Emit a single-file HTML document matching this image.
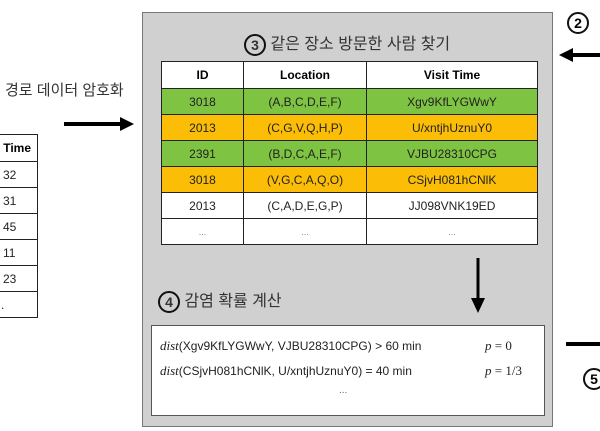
<!DOCTYPE html>
<html><head><meta charset="utf-8"><style>
body{margin:0;width:600px;height:431px;background:#fff;position:relative;overflow:hidden;font-family:"Liberation Sans","Noto Sans CJK KR",sans-serif;}
.a{position:absolute;}
table{border-collapse:collapse;position:absolute;}
td{border:1px solid #222;text-align:center;font-size:12px;color:#222;padding:0;}
.g td{background:#7ec342;}
.o td{background:#fbbd05;}
.w td{background:#fff;}
th{border:1px solid #222;background:#fff;font-size:12px;font-weight:bold;height:26px;padding:0;}
.circ{display:inline-block;width:18px;height:18px;border:2.5px solid #111;border-radius:50%;text-align:center;line-height:18px;font-weight:bold;font-size:14px;vertical-align:middle;}
</style></head><body>
<div class="a" style="left:5px;top:79px;font-size:15px;color:#333;">경로 데이터 암호화</div>
<table style="left:-40px;top:134px;width:78px;">
<tr><th style="height:26px;text-align:right;padding-right:6px">Time</th></tr>
<tr class="w"><td style="height:25px;text-align:left;padding-left:42px">32</td></tr>
<tr class="w"><td style="height:25px;text-align:left;padding-left:42px">31</td></tr>
<tr class="w"><td style="height:25px;text-align:left;padding-left:42px">45</td></tr>
<tr class="w"><td style="height:25px;text-align:left;padding-left:42px">11</td></tr>
<tr class="w"><td style="height:25px;text-align:left;padding-left:42px">23</td></tr>
<tr class="w"><td style="height:25px;text-align:left;padding-left:40px">.</td></tr>
</table>
<svg class="a" style="left:0;top:0" width="600" height="431">
<line x1="64" y1="124" x2="122" y2="124" stroke="#000" stroke-width="4"/>
<polygon points="120,117 134,124 120,131" fill="#000"/>
<line x1="571" y1="55" x2="600" y2="55" stroke="#000" stroke-width="4"/>
<polygon points="573,48 559,55 573,62" fill="#000"/>
<line x1="566" y1="344" x2="600" y2="344" stroke="#000" stroke-width="4"/>
</svg>
<div class="a" style="left:567px;top:12px;"><span class="circ">2</span></div>
<div class="a" style="left:583px;top:368px;"><span class="circ">5</span></div>
<div class="a" style="left:142px;top:12px;width:409px;height:413px;background:#d0d0d0;border:1px solid #777;"></div>
<div class="a" style="left:244px;top:30px;font-size:16px;color:#333;"><span class="circ">3</span> 같은 장소 방문한 사람 찾기</div>
<table style="left:161px;top:61px;width:377px;">
<tr><th style="width:81px">ID</th><th style="width:122px">Location</th><th>Visit Time</th></tr>
<tr class="g"><td style="height:25px">3018</td><td>(A,B,C,D,E,F)</td><td>Xgv9KfLYGWwY</td></tr>
<tr class="o"><td style="height:25px">2013</td><td>(C,G,V,Q,H,P)</td><td>U/xntjhUznuY0</td></tr>
<tr class="g"><td style="height:25px">2391</td><td>(B,D,C,A,E,F)</td><td>VJBU28310CPG</td></tr>
<tr class="o"><td style="height:25px">3018</td><td>(V,G,C,A,Q,O)</td><td>CSjvH081hCNlK</td></tr>
<tr class="w"><td style="height:25px">2013</td><td>(C,A,D,E,G,P)</td><td>JJ098VNK19ED</td></tr>
<tr class="w"><td style="height:25px;font-size:9px;color:#888">...</td><td style="font-size:9px;color:#888">...</td><td style="font-size:9px;color:#888">...</td></tr>
</table>
<svg class="a" style="left:0;top:0" width="600" height="431">
<line x1="478" y1="258" x2="478" y2="300" stroke="#000" stroke-width="3"/>
<polygon points="471,298 478,313 485,298" fill="#000"/>
</svg>
<div class="a" style="left:158px;top:287px;font-size:16px;color:#333;"><span class="circ">4</span> 감염 확률 계산</div>
<div class="a" style="left:151px;top:325px;width:392px;height:89px;background:#fff;border:1px solid #555;font-size:12px;color:#222;">
<div class="a" style="left:8px;top:12px;"><i style="font-family:'Liberation Serif',serif;font-size:13px">dist</i>(Xgv9KfLYGWwY, VJBU28310CPG) &gt; 60 min</div>
<div class="a" style="left:333px;top:12px;font-family:'Liberation Serif',serif;font-size:13px"><i>p</i> = 0</div>
<div class="a" style="left:8px;top:37px;"><i style="font-family:'Liberation Serif',serif;font-size:13px">dist</i>(CSjvH081hCNlK, U/xntjhUznuY0) = 40 min</div>
<div class="a" style="left:333px;top:37px;font-family:'Liberation Serif',serif;font-size:13px"><i>p</i> = 1/3</div>
<div class="a" style="left:187px;top:59px;font-size:10px;color:#666">...</div>
</div>
</body></html>
